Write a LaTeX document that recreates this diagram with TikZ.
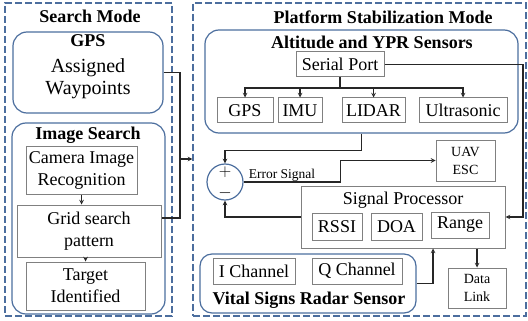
\documentclass[tikz,border=0pt]{standalone}
\usepackage{fontspec}
\setmainfont{Liberation Serif}
\usetikzlibrary{positioning}
\definecolor{frameblue}{HTML}{4C6E9E}
\definecolor{boxgray}{HTML}{808080}
\definecolor{wirecol}{HTML}{262626}

\begin{document}
\begin{tikzpicture}[x=1pt, y=-1pt, font=\fontsize{18}{22}\selectfont,
  modeframe/.style={draw=frameblue, dash pattern=on 7pt off 3pt, line width=1.1pt, inner sep=0pt},
  grpbox/.style={draw=frameblue, line width=1.2pt, rounded corners=14pt, inner sep=0pt},
  unit/.style={draw=boxgray, line width=1pt, fill=white, align=center, inner sep=1pt},
  ttl/.style={font=\fontsize{18}{22}\selectfont\bfseries, inner sep=0pt},
  wire/.style={draw=wirecol, line width=1.1pt},
  arr/.style={->, >=stealth, wirecol, line width=1.1pt}
]
\useasboundingbox (0,0) rectangle (528,321);
% search mode
\node[modeframe, minimum width=167, minimum height=313] (searchmode) at (88.5,159.5) {};
\node[ttl] (searchttl) at (90,16) {Search Mode};
\node[grpbox, minimum width=150, minimum height=81] (gpsbox) at (88,72.5) {};
\node[text width=140, align=center, inner sep=0pt] (gpstext) at (88,67)
  {\textbf{GPS}\\[1pt]\fontsize{20}{25}\selectfont Assigned\\Waypoints};
\node[grpbox, minimum width=153, minimum height=191] (imgbox) at (88.5,218.5) {};
\node[ttl] (imgttl) at (88,135) {Image Search};
\node[unit, minimum width=111, minimum height=48] (camera) at (81.5,170) {Camera Image\\Recognition};
\node[unit, minimum width=144, minimum height=52] (grid) at (89,231) {Grid search\\pattern};
\node[unit, minimum width=119, minimum height=48] (target) at (85.5,286) {Target\\Identified};
\draw[arr] (camera.south) -- (camera.south |- grid.north);
\draw[arr] (target.north |- grid.south) -- (target.north);
\coordinate (join) at (180,159);
\draw[wire] (gpsbox.east) -| (join) |- ([yshift=13pt]grid.east);
% platform stabilization mode
\node[modeframe, minimum width=333, minimum height=313] (platmode) at (359.5,159.5) {};
\draw[arr] (join) -- (join -| platmode.west);
\node[ttl] (platttl) at (383,17) {Platform Stabilization Mode};
\node[grpbox, minimum width=313, minimum height=103] (sensbox) at (361.5,81.5) {};
\node[ttl] (sensttl) at (372,42) {Altitude and YPR Sensors};
\node[unit, minimum width=88, minimum height=25] (serial) at (340,64.5) {Serial Port};
\node[unit, minimum width=56, minimum height=25] (sgps) at (245,110.5) {GPS};
\node[unit, minimum width=44, minimum height=25] (simu) at (300,110.5) {IMU};
\node[unit, minimum width=63, minimum height=25] (slidar) at (373.5,110.5) {LIDAR};
\node[unit, minimum width=88, minimum height=25] (sultra) at (463,110.5) {Ultrasonic};
\coordinate (branch) at (340,88);
\draw[wire] (serial.south) -- (branch);
\foreach \s in {sgps,simu,slidar,sultra}
  \draw[arr] (branch) -| (\s.north);
% error loop
\node[circle, draw=frameblue, line width=1.2pt, minimum size=36, inner sep=0pt] (sum) at (225,182) {};
\node[inner sep=0pt] (plus) at (225,172) {$+$};
\node[inner sep=0pt] (minus) at (225,193) {$-$};
\node[inner sep=0pt, font=\fontsize{13.5}{16}\selectfont] (errlbl) at (282,175) {Error Signal};
\draw[arr] (sensbox.south) -- ++(0,17) -| (sum.north);
\node[unit, minimum width=59, minimum height=41, font=\fontsize{14}{18}\selectfont] (uav) at (465.5,160.5) {UAV\\ESC};
\draw[arr] (sum.east) -- ++(97,0) |- (uav.west);
\node[unit, minimum width=204, minimum height=62] (sigproc) at (403,217) {};
\node[inner sep=0pt] (spttl) at (403,200) {Signal Processor};
\node[unit, minimum width=50, minimum height=27] (rssi) at (337,226.5) {RSSI};
\node[unit, minimum width=51, minimum height=27] (doa) at (396.5,226.5) {DOA};
\node[unit, minimum width=58, minimum height=26] (range) at (460,225) {Range};
\draw[arr] (sigproc.west) -| (sum.south);
\coordinate (srail) at (523,64.5);
\draw[arr] (serial.east) -- (srail) |- (sigproc.east);
% radar sensor
\node[grpbox, rounded corners=12pt, minimum width=216, minimum height=59] (radar) at (308,283.5) {};
\node[unit, minimum width=82, minimum height=26] (ichan) at (254,271) {I Channel};
\node[unit, minimum width=90, minimum height=26] (qchan) at (357,271) {Q Channel};
\node[ttl] (radarttl) at (309,300) {Vital Signs Radar Sensor};
\draw[arr] (radar.east) -| ([xshift=30pt]sigproc.south);
\node[unit, minimum width=58, minimum height=40, font=\fontsize{14}{18}\selectfont] (datalink) at (477,288) {Data\\Link};
\draw[arr] (sigproc.south -| datalink.north) -- (datalink.north);
\end{tikzpicture}
\end{document}
